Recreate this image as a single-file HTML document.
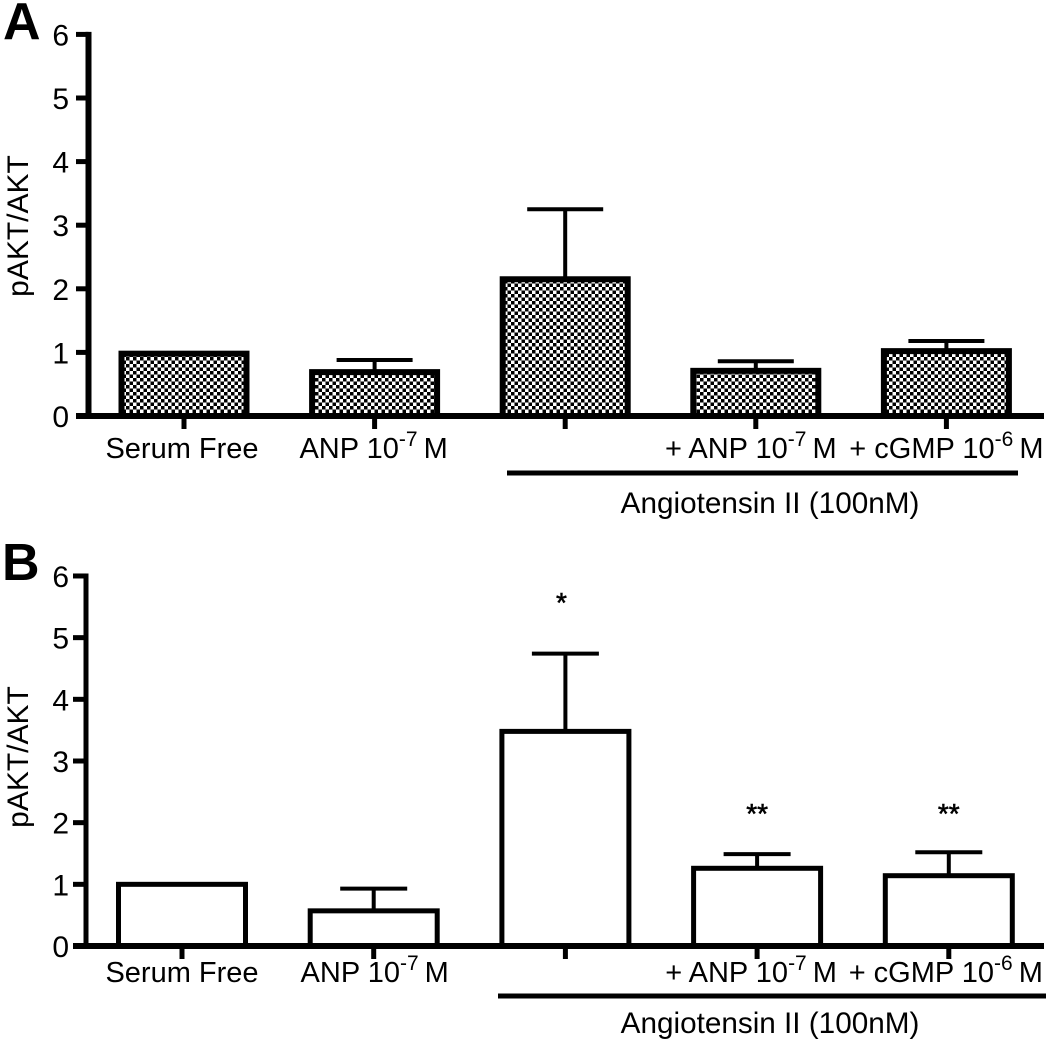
<!DOCTYPE html>
<html lang="en">
<head>
<meta charset="utf-8">
<title>pAKT/AKT bar charts</title>
<style>
html,body{margin:0;padding:0;background:#fff;width:1050px;height:1044px;overflow:hidden}
svg{display:block;font-family:"Liberation Sans",Arial,sans-serif;fill:#000}
</style>
</head>
<body>
<svg id="figure" xmlns="http://www.w3.org/2000/svg" width="1050" height="1044" viewBox="0 0 1050 1044">
<defs>
<pattern id="checker" patternUnits="userSpaceOnUse" width="7" height="7">
<rect width="7" height="7" fill="#fff"/>
<rect width="3.5" height="3.5" fill="#000"/>
<rect x="3.5" y="3.5" width="3.5" height="3.5" fill="#000"/>
</pattern>
</defs>
</svg>
<script>
const categoryNames = ['Serum Free', 'ANP 10', '', '+ ANP 10', '+ cGMP 10'];
const categoryExponents = ['', '-7', '', '-7', '-6'];
const categoryUnits = ['', 'M', '', 'M', 'M'];
const yTickLabels = [0, 1, 2, 3, 4, 5, 6];
const valuesA = [0.98, 0.69, 2.15, 0.71, 1.02];
const errorTopsA = [0.98, 0.88, 3.25, 0.86, 1.18];
const markersA = ['', '', '', '', ''];
const valuesB = [1.0, 0.57, 3.48, 1.26, 1.14];
const errorTopsB = [1.0, 0.93, 4.74, 1.49, 1.52];
const markersB = ['', '', '*', '**', '**'];

const svg = document.getElementById('figure');
const NS = 'http://www.w3.org/2000/svg';
function make(tag, props, parent) {
  const n = document.createElementNS(NS, tag);
  for (const k in props) n.setAttribute(k, props[k]);
  (parent || svg).appendChild(n);
  return n;
}

function drawPanel(p) {
  const g = make('g', {});
  
  
  const y = v => p.y0 - v * p.unit;
  const x = i => p.x0 + i * p.step;

  const letter = make('text', {x: p.letterX, y: p.letterY, 'font-size': 52, 'font-weight': 'bold'}, g);
  letter.textContent = p.letter;
  
  

  const title = make('text', {transform: 'translate(28 ' + p.titleY + ') rotate(-90)', 'font-size': 30, 'text-anchor': 'middle'}, g);
  title.textContent = 'pAKT/AKT';
  
  

  p.values.forEach((v, i) => {
    const cx = x(i);
    const stem = make('line', {x1: cx, x2: cx, y1: y(v), y2: y(p.errors[i]), stroke: '#000', 'stroke-width': 4}, g);
    
    
    if (p.errors[i] > v) {
      const cap = make('line', {x1: cx - p.capW / 2, x2: cx + p.capW / 2, y1: y(p.errors[i]), y2: y(p.errors[i]), stroke: '#000', 'stroke-width': 4}, g);
      
      
    }
    const sw = p.barStroke;
    const bar = make('rect', {
      x: cx - p.barW / 2 + sw / 2, y: y(v), width: p.barW - sw, height: p.y0 - y(v),
      fill: p.fill, stroke: '#000', 'stroke-width': sw
    }, g);
    
    

    const tick = make('line', {x1: cx, x2: cx, y1: p.y0, y2: p.y0 + 13, stroke: '#000', 'stroke-width': 5}, g);
    
    

    if (categoryNames[i]) {
      const t = make('text', {x: cx + p.labelShift[i], y: p.labelY, 'font-size': 29, 'text-anchor': 'middle'}, g);
      
      
      make('tspan', {}, t).textContent = categoryNames[i];
      if (categoryExponents[i]) {
        const s = make('tspan', {dy: -12, 'font-size': 21}, t);
        s.textContent = categoryExponents[i];
        const u = make('tspan', {dy: 12, dx: 6}, t);
        u.textContent = categoryUnits[i];
      }
    }
    if (p.markers[i]) {
      const m = make('text', {x: cx + p.markerShift[i], y: p.markerY[i], 'font-size': 28, 'text-anchor': 'middle', stroke: '#000', 'stroke-width': 0.6}, g);
      m.textContent = p.markers[i];
      
      
    }
  });

  const yAxis = make('line', {x1: p.axisX, x2: p.axisX, y1: y(6) - 2.5, y2: p.y0 + 3, stroke: '#000', 'stroke-width': p.axisW}, g);
  
  
  const xAxis = make('line', {x1: p.tickLeft, x2: 1044, y1: p.y0, y2: p.y0, stroke: '#000', 'stroke-width': 6}, g);
  
  

  yTickLabels.forEach(v => {
    const tick = make('line', {x1: p.tickLeft, x2: p.axisX, y1: y(v), y2: y(v), stroke: '#000', 'stroke-width': 5}, g);
    
    
    const label = make('text', {x: 69, y: y(v) + 11, 'font-size': 30, 'text-anchor': 'end'}, g);
    label.textContent = v;
    
    
  });

  const bracket = make('line', {x1: p.lineX1, x2: p.lineX2, y1: p.lineY, y2: p.lineY, stroke: '#000', 'stroke-width': 5}, g);
  
  
  const group = make('text', {x: 770, y: p.groupY, 'font-size': 29.7, 'text-anchor': 'middle'}, g);
  group.textContent = 'Angiotensin II (100nM)';
  
  
}

drawPanel({
  id: 'panel-a', letter: 'A', letterX: 3, letterY: 39, titleY: 226,
  y0: 416, unit: 63.6, x0: 184, step: 190.6, barW: 131, capW: 76, barStroke: 6,
  axisX: 88.5, axisW: 6, tickLeft: 76, fill: 'url(#checker)',
  values: valuesA, errors: errorTopsA, markers: markersA,
  markerShift: [0, 0, 0, 0, 0], markerY: [0, 0, 0, 0, 0],
  labelShift: [-2, -1, 0, -5, 0], labelY: 458,
  lineX1: 507, lineX2: 1018, lineY: 473, groupY: 513
});
drawPanel({
  id: 'panel-b', letter: 'B', letterX: 2, letterY: 580, titleY: 757,
  y0: 946, unit: 61.67, x0: 182, step: 191.7, barW: 132, capW: 67, barStroke: 5,
  axisX: 86, axisW: 5, tickLeft: 73, fill: '#fff',
  values: valuesB, errors: errorTopsB, markers: markersB,
  markerShift: [0, 0, -4, 0, 0], markerY: [0, 0, 612, 823, 823],
  labelShift: [0, 1, 0, -6, -3], labelY: 982,
  lineX1: 498, lineX2: 1046, lineY: 996, groupY: 1033
});
</script>
</body>
</html>
